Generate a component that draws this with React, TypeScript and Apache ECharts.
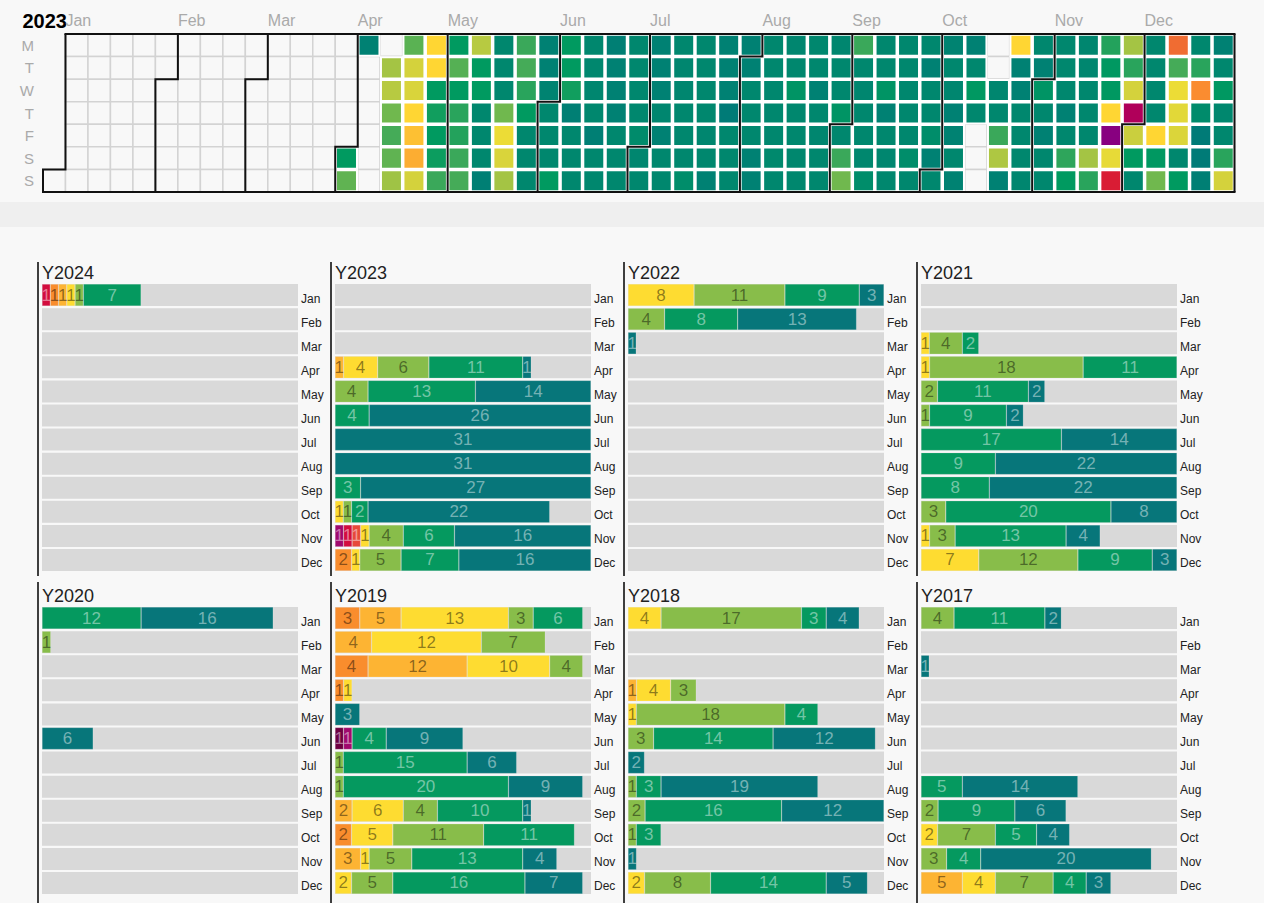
import React, { useEffect, useRef } from "react";
import * as echarts from "echarts";

const MONTHS = ["Jan", "Feb", "Mar", "Apr", "May", "Jun", "Jul", "Aug", "Sep", "Oct", "Nov", "Dec"];
const DAY_NAMES = ["S", "M", "T", "W", "T", "F", "S"];
const CALENDAR_YEAR = "2023";

// ---- Calendar 2023: daily score (0 = worst ... 14 = best), null = no record ----
const cal2023Jan: (number | null)[] = [];
const cal2023Feb: (number | null)[] = [];
const cal2023Mar: (number | null)[] = [];
const cal2023Apr: (number | null)[] = [12, 10.3, 13.5, null, null, null, null, null, null, null, 9, 8.6, 10, 10.8, 10.3, 9.1, 10.4, 8, 7.8, 6, 5.2, 4.7, 8, 6, 6, 12, 11.7, 12, 11.8, 11];
const cal2023May: (number | null)[] = [12, 10.5, 12, 11.3, 11.4, 11, 10.8, 8.6, 12, 12, 13, 13, 13, 13.6, 13, 13, 13, 10, 7, 7.8, 9, 11, 10.8, 11.3, 12, 13, 13, 13, 13.5, 13.5, 13.3];
const cal2023Jun: (number | null)[] = [13, 13, 13, 12, 12, 12, 11.7, 13.6, 13, 13, 13, 13, 13, 13.1, 13, 13.6, 13, 13, 13.6, 13.5, 13.5, 13.5, 13, 13, 13, 13, 13, 13, 13, 12.8];
const cal2023Jul: (number | null)[] = [13.1, 13, 13.5, 13.5, 13.5, 13.1, 13.5, 13, 13, 13, 13.1, 13.1, 13, 13, 13, 12.7, 13, 13, 13, 13, 13.1, 13, 13.5, 13.5, 13.5, 13.5, 13.9, 13, 13, 13, 13.5];
const cal2023Aug: (number | null)[] = [13.5, 13, 13, 13, 13.5, 13.5, 13, 13, 13, 13, 13, 12.9, 13, 13.1, 13, 12.3, 13, 13, 13, 13, 13, 13, 13.5, 13, 13.1, 13, 13, 13.1, 13, 13, 12.3];
const cal2023Sep: (number | null)[] = [13, 11, 10, 11, 13, 13.1, 13, 13, 13, 12.7, 13, 13, 12.3, 13.5, 13, 13.1, 13, 13, 13, 13, 13, 13, 12.7, 13, 13, 13.5, 13, 13, 12.7, 13.5];
const cal2023Oct: (number | null)[] = [13, 13.3, 13, 13.1, 13.5, 13.4, 13, 13.4, 13.5, 13, 12.1, 13, null, null, null, null, null, 13.1, 13, 11, 8.8, 13.5, 6, 13.5, 13.5, 13, 13, 13, 13.1, 13, 13.5];
const cal2023Nov: (number | null)[] = [12.3, 13, 13.5, 13, 13, 13, 13, 13, 13.5, 13, 11.2, 12, 13.1, 13.1, 13, 13, 13, 9, 11.3, 11.4, 12.1, 12.1, 6, 0, 7.2, 2, 9, 11.3, 8, 1];
const cal2023Dec: (number | null)[] = [8.2, 12, 13, 13, 13, 13, 13, 6, 12.1, 10, 3, 10.8, 7, 7.4, 7.7, 13, 12, 13, 11.3, 4, 12.8, 13.9, 13.9, 13.6, 13.5, 13, 12.1, 13, 13, 11.3, 8];
const CAL_MONTHS = [cal2023Jan, cal2023Feb, cal2023Mar, cal2023Apr, cal2023May, cal2023Jun, cal2023Jul, cal2023Aug, cal2023Sep, cal2023Oct, cal2023Nov, cal2023Dec];
const CAL_MIN = 0;
const CAL_MAX = 14;
const CAL_COLORS = ["#880080", "#b0005a", "#d91c34", "#f06c32", "#fa8c30", "#fdbb33", "#ffd633", "#ecdc36", "#d4d23c", "#a4c444", "#70b84e", "#3aa85a", "#009a60", "#00876e", "#007a78"];

// ---- Monthly day counts per category ----
// category order: maroon, magenta, crimson, redOrange, orange, lightOrange, yellow, yellowGreen, green, teal
const CAT_COLORS = ["#6e0042", "#a0096d", "#d30d3e", "#e7493a", "#f98d2d", "#fdb433", "#fedc31", "#88bd4a", "#05995f", "#07767a"];
const CAT_DARK_TEXT = [false, false, false, false, true, true, true, true, false, false];

const Z = [0, 0, 0, 0, 0, 0, 0, 0, 0, 0];
const countsY2024 = [
  [0, 0, 1, 0, 1, 1, 1, 1, 7, 0], Z, Z, Z, Z, Z, Z, Z, Z, Z, Z, Z,
];
const countsY2023 = [
  Z, Z, Z,
  [0, 0, 0, 0, 0, 1, 4, 6, 11, 1],
  [0, 0, 0, 0, 0, 0, 0, 4, 13, 14],
  [0, 0, 0, 0, 0, 0, 0, 0, 4, 26],
  [0, 0, 0, 0, 0, 0, 0, 0, 0, 31],
  [0, 0, 0, 0, 0, 0, 0, 0, 0, 31],
  [0, 0, 0, 0, 0, 0, 0, 0, 3, 27],
  [0, 0, 0, 0, 0, 0, 1, 1, 2, 22],
  [0, 1, 1, 1, 0, 0, 1, 4, 6, 16],
  [0, 0, 0, 0, 2, 0, 1, 5, 7, 16],
];
const countsY2022 = [
  [0, 0, 0, 0, 0, 0, 8, 11, 9, 3],
  [0, 0, 0, 0, 0, 0, 0, 4, 8, 13],
  [0, 0, 0, 0, 0, 0, 0, 0, 0, 1],
  Z, Z, Z, Z, Z, Z, Z, Z, Z,
];
const countsY2021 = [
  Z, Z,
  [0, 0, 0, 0, 0, 0, 1, 4, 2, 0],
  [0, 0, 0, 0, 0, 0, 1, 18, 11, 0],
  [0, 0, 0, 0, 0, 0, 0, 2, 11, 2],
  [0, 0, 0, 0, 0, 0, 0, 1, 9, 2],
  [0, 0, 0, 0, 0, 0, 0, 0, 17, 14],
  [0, 0, 0, 0, 0, 0, 0, 0, 9, 22],
  [0, 0, 0, 0, 0, 0, 0, 0, 8, 22],
  [0, 0, 0, 0, 0, 0, 0, 3, 20, 8],
  [0, 0, 0, 0, 0, 0, 1, 3, 13, 4],
  [0, 0, 0, 0, 0, 0, 7, 12, 9, 3],
];
const countsY2020 = [
  [0, 0, 0, 0, 0, 0, 0, 0, 12, 16],
  [0, 0, 0, 0, 0, 0, 0, 1, 0, 0],
  Z, Z, Z,
  [0, 0, 0, 0, 0, 0, 0, 0, 0, 6],
  Z, Z, Z, Z, Z, Z,
];
const countsY2019 = [
  [0, 0, 0, 0, 3, 5, 13, 3, 6, 0],
  [0, 0, 0, 0, 0, 4, 12, 7, 0, 0],
  [0, 0, 0, 0, 4, 12, 10, 4, 0, 0],
  [0, 0, 0, 0, 1, 0, 1, 0, 0, 0],
  [0, 0, 0, 0, 0, 0, 0, 0, 0, 3],
  [1, 1, 0, 0, 0, 0, 0, 0, 4, 9],
  [0, 0, 0, 0, 0, 0, 0, 1, 15, 6],
  [0, 0, 0, 0, 0, 0, 0, 1, 20, 9],
  [0, 0, 0, 0, 0, 2, 6, 4, 10, 1],
  [0, 0, 0, 0, 2, 0, 5, 11, 11, 0],
  [0, 0, 0, 0, 0, 3, 1, 5, 13, 4],
  [0, 0, 0, 0, 0, 0, 2, 5, 16, 7],
];
const countsY2018 = [
  [0, 0, 0, 0, 0, 0, 4, 17, 3, 4],
  Z, Z,
  [0, 0, 0, 0, 0, 1, 4, 3, 0, 0],
  [0, 0, 0, 0, 0, 0, 1, 18, 4, 0],
  [0, 0, 0, 0, 0, 0, 0, 3, 14, 12],
  [0, 0, 0, 0, 0, 0, 0, 0, 0, 2],
  [0, 0, 0, 0, 0, 0, 0, 1, 3, 19],
  [0, 0, 0, 0, 0, 0, 0, 2, 16, 12],
  [0, 0, 0, 0, 0, 0, 0, 1, 3, 0],
  [0, 0, 0, 0, 0, 0, 0, 0, 0, 1],
  [0, 0, 0, 0, 0, 0, 2, 8, 14, 5],
];
const countsY2017 = [
  [0, 0, 0, 0, 0, 0, 0, 4, 11, 2],
  Z,
  [0, 0, 0, 0, 0, 0, 0, 0, 0, 1],
  Z, Z, Z, Z,
  [0, 0, 0, 0, 0, 0, 0, 0, 5, 14],
  [0, 0, 0, 0, 0, 0, 0, 2, 9, 6],
  [0, 0, 0, 0, 0, 0, 2, 7, 5, 4],
  [0, 0, 0, 0, 0, 0, 0, 3, 4, 20],
  [0, 0, 0, 0, 0, 5, 4, 7, 4, 3],
];
const PANEL_TITLES = ["Y2024", "Y2023", "Y2022", "Y2021", "Y2020", "Y2019", "Y2018", "Y2017"];
const PANEL_YEARS = [2024, 2023, 2022, 2021, 2020, 2019, 2018, 2017];
const PANEL_COUNTS = [countsY2024, countsY2023, countsY2022, countsY2021, countsY2020, countsY2019, countsY2018, countsY2017];

const FONT = "'Liberation Sans', Arial, Helvetica, sans-serif";

function pad2(n: number) {
  return String(n).padStart(2, "0");
}

function daysInMonth(year: number, monthIdx: number) {
  return new Date(year, monthIdx + 1, 0).getDate();
}

function buildOption() {
  const heatData: [string, number][] = [];
  CAL_MONTHS.forEach((arr, m) => {
    arr.forEach((v, d) => {
      if (v !== null && v !== undefined) {
        heatData.push([`${CALENDAR_YEAR}-${pad2(m + 1)}-${pad2(d + 1)}`, v]);
      }
    });
  });

  const grids: any[] = [];
  const xAxes: any[] = [];
  const yAxes: any[] = [];
  const series: any[] = [
    {
      type: "heatmap",
      coordinateSystem: "calendar",
      data: heatData,
      itemStyle: { borderColor: "#ffffff", borderWidth: 2 },
    },
  ];
  const graphics: any[] = [
    {
      type: "rect",
      silent: true,
      z: -10,
      shape: { x: 0, y: 202, width: 1264, height: 25 },
      style: { fill: "#efefef" },
    },
    {
      type: "text",
      x: 67,
      y: 21,
      style: {
        text: CALENDAR_YEAR,
        fontSize: 20,
        fontWeight: "bold",
        fontFamily: FONT,
        fill: "#000",
        align: "right",
        verticalAlign: "middle",
      },
    },
  ];

  PANEL_COUNTS.forEach((counts, i) => {
    const c = i % 4;
    const r = Math.floor(i / 4);
    const left = 42 + 293 * c;
    const top = 283 + 323 * r;
    const year = PANEL_YEARS[i];
    grids.push({ left, top, width: 256, height: 289, containLabel: false });
    xAxes.push({ gridIndex: i, type: "value", min: 0, max: 1, show: false });
    yAxes.push({
      gridIndex: i,
      type: "category",
      data: MONTHS,
      inverse: true,
      position: "right",
      axisLine: { show: false },
      axisTick: { show: false },
      splitLine: { show: false },
      axisLabel: { margin: 3, fontSize: 12, color: "#222", fontFamily: FONT, verticalAlign: "top", lineHeight: 7 },
    });
    series.push({
      type: "bar",
      name: "bg" + i,
      xAxisIndex: i,
      yAxisIndex: i,
      data: MONTHS.map(() => 1),
      barWidth: 22,
      barGap: "-100%",
      silent: true,
      z: 1,
      itemStyle: { color: "#d9d9d9" },
      label: { show: false },
    });
    CAT_COLORS.forEach((color, k) => {
      series.push({
        type: "bar",
        name: PANEL_TITLES[i] + "-" + k,
        xAxisIndex: i,
        yAxisIndex: i,
        stack: "s" + i,
        barWidth: 22,
        barGap: "-100%",
        z: 2,
        data: counts.map((row, m) => (row[k] > 0 ? row[k] / daysInMonth(year, m) : null)),
        itemStyle: { color, borderColor: "rgba(255,255,255,0.25)", borderWidth: 0.6 },
        label: {
          show: true,
          position: "inside",
          fontSize: 17,
          fontFamily: FONT,
          color: CAT_DARK_TEXT[k] ? "rgba(0,0,0,0.45)" : "rgba(255,255,255,0.45)",
          formatter: (p: any) => String(counts[p.dataIndex][k]),
        },
      });
    });

    graphics.push({
      type: "text",
      x: left,
      y: 273 + 323 * r,
      style: {
        text: PANEL_TITLES[i],
        fontSize: 18,
        fontFamily: FONT,
        fill: "#222",
        align: "left",
        verticalAlign: "middle",
      },
    });
    graphics.push({
      type: "line",
      silent: true,
      shape: { x1: 38 + 293 * c, y1: r === 0 ? 262 : 582, x2: 38 + 293 * c, y2: r === 0 ? 576 : 903 },
      style: { stroke: "#000", lineWidth: 1.5 },
    });
  });

  return {
    animation: false,
    backgroundColor: "#f8f8f8",
    textStyle: { fontFamily: FONT },
    visualMap: {
      type: "continuous",
      show: false,
      seriesIndex: 0,
      min: CAL_MIN,
      max: CAL_MAX,
      inRange: { color: CAL_COLORS },
    },
    calendar: {
      range: CALENDAR_YEAR,
      orient: "horizontal",
      left: 43,
      top: 34,
      right: 29.5,
      bottom: 711,
      cellSize: ["auto", "auto"],
      splitLine: { show: true, lineStyle: { color: "#111", width: 2 } },
      itemStyle: { color: "#f8f8f8", borderColor: "#d3d3d3", borderWidth: 1.5 },
      yearLabel: { show: false },
      monthLabel: { show: true, position: "start", align: "left", margin: 6, color: "#aaa", fontSize: 16, fontFamily: FONT, nameMap: MONTHS },
      dayLabel: { show: true, firstDay: 1, nameMap: DAY_NAMES, position: "start", margin: 9, color: "#aaa", fontSize: 15, fontFamily: FONT },
    },
    grid: grids,
    xAxis: xAxes,
    yAxis: yAxes,
    series,
    graphic: graphics,
  };
}

export default function App() {
  const ref = useRef<HTMLDivElement>(null);
  useEffect(() => {
    if (!ref.current) return;
    const chart = echarts.init(ref.current, null, { renderer: "svg" });
    chart.setOption(buildOption() as any);
    return () => chart.dispose();
  }, []);
  return <div ref={ref} style={{ position: "absolute", left: 0, top: 0, width: 1264, height: 903 }} />;
}
